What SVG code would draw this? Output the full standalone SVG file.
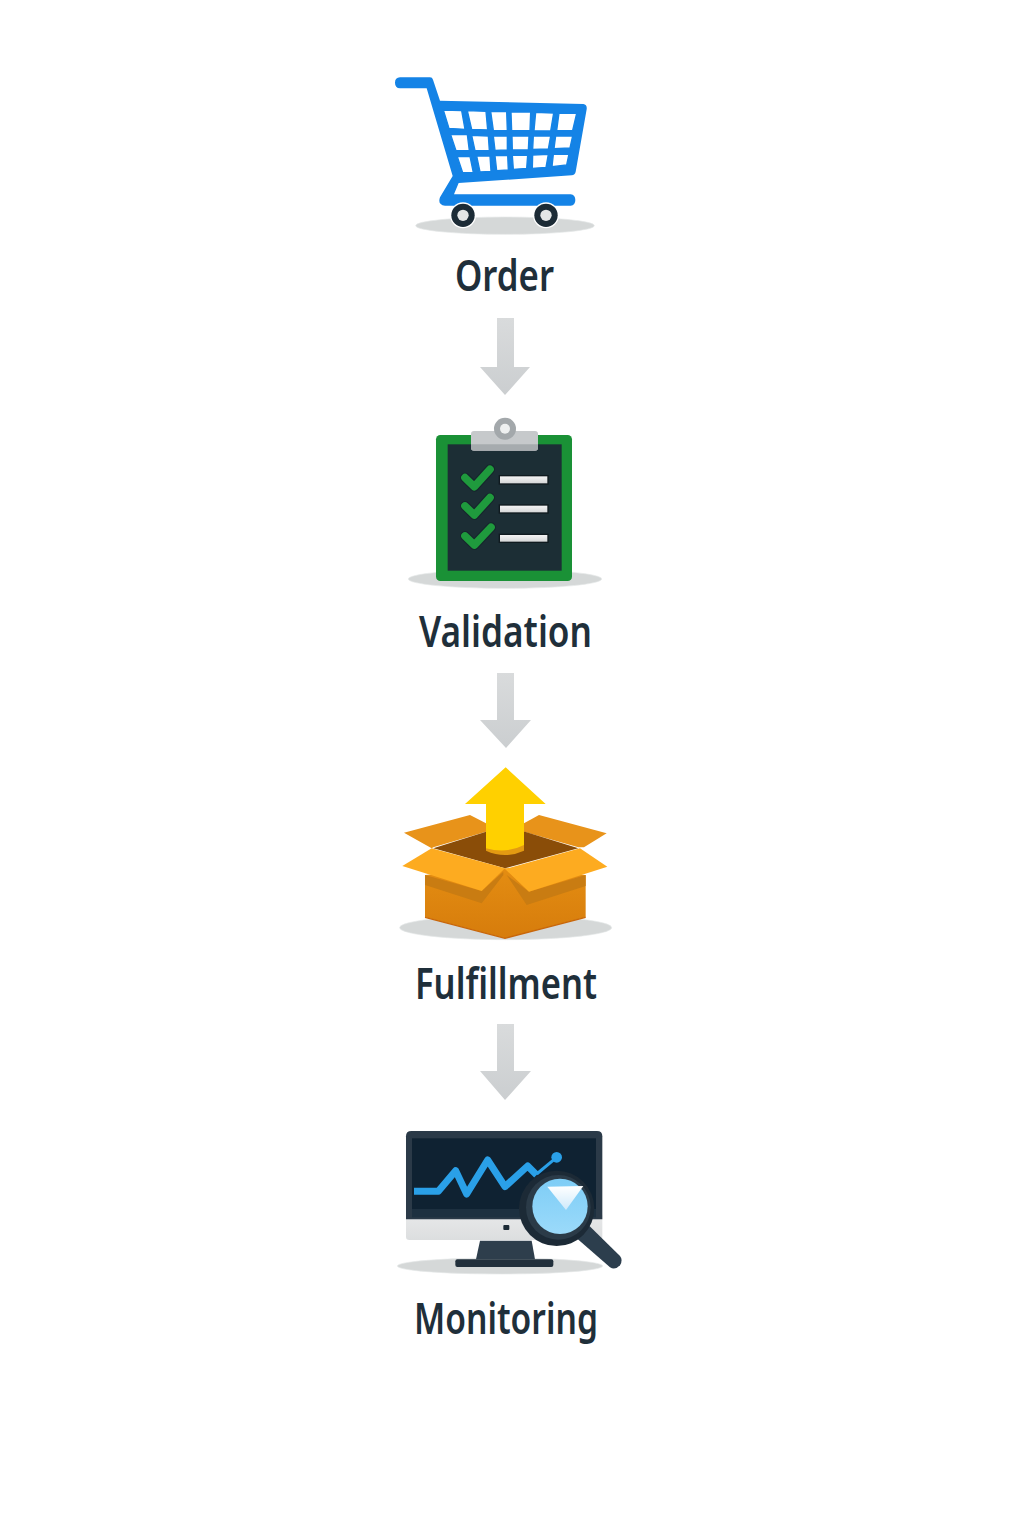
<svg xmlns="http://www.w3.org/2000/svg" width="1024" height="1536" viewBox="0 0 1024 1536">
<defs>
<linearGradient id="arrowFill" x1="0" y1="0" x2="0" y2="1"><stop offset="0" stop-color="#d9dbdc"/><stop offset="1" stop-color="#cbced0"/></linearGradient>
<linearGradient id="barFill" x1="0" y1="0" x2="0" y2="1"><stop offset="0" stop-color="#f6f6f6"/><stop offset="1" stop-color="#d2d4d5"/></linearGradient>
<linearGradient id="lensFill" x1="0" y1="0" x2="0" y2="1"><stop offset="0" stop-color="#7ecdf6"/><stop offset="1" stop-color="#9bdafa"/></linearGradient>
<linearGradient id="flowFill" x1="0" y1="0" x2="0" y2="1"><stop offset="0" stop-color="#ffffff"/><stop offset="1" stop-color="#cfeafb"/></linearGradient>
<linearGradient id="bodyFill" x1="0" y1="0" x2="0" y2="1"><stop offset="0" stop-color="#e48d12"/><stop offset="1" stop-color="#d67c0c"/></linearGradient>
<linearGradient id="chinFill" x1="0" y1="0" x2="0" y2="1"><stop offset="0" stop-color="#c8cacb"/><stop offset=".15" stop-color="#e6e7e8"/><stop offset="1" stop-color="#dcdedf"/></linearGradient>
</defs>
<style>
.shadow{fill:#d5d8d8;stroke:#e6e8e8;stroke-width:2}
.label{font-family:"Noto Sans","Liberation Sans",sans-serif;font-weight:600;font-size:43px;fill:#1f2f3a}
.conn{fill:url(#arrowFill)}
.cart{fill:#1483e6}
.cell{fill:#fff;stroke:#1483e6;stroke-width:4}
.check{fill:none;stroke:#16262c;stroke-width:30;stroke-linecap:round;stroke-linejoin:round}
.checkIn{fill:none;stroke:#1f9a3d;stroke-width:23;stroke-linecap:round;stroke-linejoin:round}
.bar{fill:url(#barFill);stroke:#0f1a1f;stroke-width:4}
</style>
<rect width="1024" height="1536" fill="#ffffff"/>
<g id="connectors">
<path class="conn" d="M497 318H514V367H530L505 395L480 367H497Z"/>
<path class="conn" d="M497 673H514V720H531L506 748L480 720H497Z"/>
<path class="conn" d="M497 1024H514V1071H531L505 1100L480 1071H497Z"/>
</g>
<g id="order">
<g transform="translate(380 60) scale(.33333)">
<ellipse class="shadow" cx="375" cy="497" rx="268" ry="26"/>
<path class="cart" d="M60 52H150Q157 52 159 59L180 122L610 132Q622 134 620 148L587 335Q585 345 575 346L236 369L222 403H572Q586 405 586 420Q586 436 572 437H195Q172 434 180 412L218 348L140 85H60Q45 84 45 68Q45 53 60 52Z"/>
<g class="cell">
<path d="M190 150L245 152L255 208L207 205Z"/><path d="M262 152L318 154L323 210L275 208Z"/><path d="M332 154L380 155L382 212L340 211Z"/><path d="M393 156L452 156L450 212L395 212Z"/><path d="M467 157L521 159L512 213L462 212Z"/><path d="M537 159L590 160L578 211L530 212Z"/>
<path d="M212 224L262 224L268 272L228 272Z"/><path d="M275 226L325 228L328 272L285 272Z"/><path d="M340 228L382 228L382 270L345 271Z"/><path d="M396 228L447 228L445 270L397 270Z"/><path d="M460 228L512 228L505 267L458 268Z"/><path d="M527 228L578 228L570 264L522 266Z"/>
<path d="M232 290L270 289L280 338L248 338Z"/><path d="M290 288L330 288L333 334L300 336Z"/><path d="M345 287L383 286L385 330L350 332Z"/><path d="M397 286L443 285L440 325L400 328Z"/><path d="M458 285L505 283L498 322L457 325Z"/><path d="M520 283L567 282L560 315L516 320Z"/>
</g>
<circle cx="249" cy="466" r="39" fill="#fff"/><circle cx="249" cy="466" r="35" fill="#1c2b36"/><circle cx="249" cy="466" r="17" fill="#e4e6e6"/>
<circle cx="498" cy="466" r="39" fill="#fff"/><circle cx="498" cy="466" r="35" fill="#1c2b36"/><circle cx="498" cy="466" r="17" fill="#e4e6e6"/>
</g>
<text class="label" x="455" y="291" textLength="99" lengthAdjust="spacingAndGlyphs">Order</text>
</g>
<g id="validation">
<g transform="translate(390 405) scale(.33333)">
<ellipse class="shadow" cx="345" cy="522" rx="290" ry="28"/>
<rect x="138" y="90" width="408" height="438" rx="13" fill="#1a9136"/>
<rect x="173" y="118" width="342" height="379" fill="#1c2e35"/>
<rect x="243" y="78" width="201" height="59" rx="9" fill="#c6c9cb"/>
<path d="M243 118H444V128Q444 137 435 137H252Q243 137 243 128Z" fill="#a6abae"/>
<circle cx="345" cy="71" r="33" fill="#a3a8ab"/><circle cx="345" cy="71" r="15" fill="#eef0f0"/>
<path class="check" d="M225 218L253 245L300 193"/><path class="checkIn" d="M225 218L253 245L300 193"/>
<path class="check" d="M225 303L253 330L300 278"/><path class="checkIn" d="M225 303L253 330L300 278"/>
<path class="check" d="M225 393L253 420L303 367"/><path class="checkIn" d="M225 393L253 420L303 367"/>
<rect class="bar" x="328" y="212" width="146" height="25"/>
<rect class="bar" x="328" y="300" width="146" height="24"/>
<rect class="bar" x="328" y="388" width="146" height="24"/>
</g>
<text class="label" x="419" y="647" textLength="173" lengthAdjust="spacingAndGlyphs">Validation</text>
</g>
<g id="fulfillment">
<g transform="translate(390 760) scale(.33333)">
<ellipse class="shadow" cx="347" cy="503" rx="318" ry="36"/>
<path d="M42 218L240 165L288 190V215L130 262L125 265Z" fill="#e8931a"/>
<path d="M650 220L447 165L402 190V215L565 262L582 262Z" fill="#e8931a"/>
<path d="M130 265L288 215H405L565 265L345 325Z" fill="#8a4d08"/>
<path d="M105 345L345 325V535L105 472Z" fill="url(#bodyFill)"/>
<path d="M345 325L587 345V472L345 535Z" fill="url(#bodyFill)"/>
<path d="M105 345L275 393L340 335V345L275 430L105 375Z" fill="#c97c12"/>
<path d="M350 345L417 395L587 345V378L410 435Z" fill="#c97c12"/>
<path d="M105 472L345 535L587 472" fill="none" stroke="#c8660a" stroke-width="4"/>
<path d="M288 255V272Q345 298 402 272V255Z" fill="#e39a12"/>
<path d="M288 265V132H225L347 22L467 132H402V255Q350 282 288 265Z" fill="#ffd000"/>
<path d="M125 265L345 325L275 393L37 318Z" fill="#fdab20"/>
<path d="M570 265L345 327L417 395L652 320Z" fill="#fdab20"/>
</g>
<text class="label" x="415" y="999" textLength="182" lengthAdjust="spacingAndGlyphs">Fulfillment</text>
</g>
<g id="monitoring">
<g transform="translate(390 1120) scale(.33333)">
<ellipse class="shadow" cx="330" cy="438" rx="308" ry="24"/>
<path d="M270 362H425L435 418H258Z" fill="#2e3e4c"/>
<rect x="196" y="418" width="294" height="23" rx="6" fill="#22303c"/>
<rect x="48" y="280" width="589" height="80" rx="10" fill="url(#chinFill)"/>
<path d="M64 33H621Q637 33 637 49V298H48V49Q48 33 64 33Z" fill="#2b3a48"/>
<rect x="66" y="55" width="552" height="213" fill="#0f2232"/>
<rect x="66" y="268" width="552" height="24" fill="#1d3040"/>
<rect x="340" y="315" width="18" height="15" rx="3" fill="#1c2a36"/>
<path d="M72 214H145L197 152L230 222L293 120L345 200L413 138L440 165" fill="none" stroke="#2aa0e8" stroke-width="21" stroke-linejoin="round"/>
<path d="M440 162L500 112" stroke="#2aa0e8" stroke-width="9"/>
<circle cx="500" cy="112" r="16" fill="#2aa0e8"/>
<path d="M555 350L590 310L690 408Q700 420 690 436Q675 452 660 442Z" fill="#2c3e4d"/>
<circle cx="500" cy="265" r="113" fill="#1c2a36"/>
<circle cx="505" cy="262" r="97" fill="#2b3b48"/>
<circle cx="510" cy="259" r="83" fill="url(#lensFill)"/>
<path d="M472 200L580 198L528 270Z" fill="url(#flowFill)"/>
</g>
<text class="label" x="414" y="1334" textLength="184" lengthAdjust="spacingAndGlyphs">Monitoring</text>
</g>
</svg>
